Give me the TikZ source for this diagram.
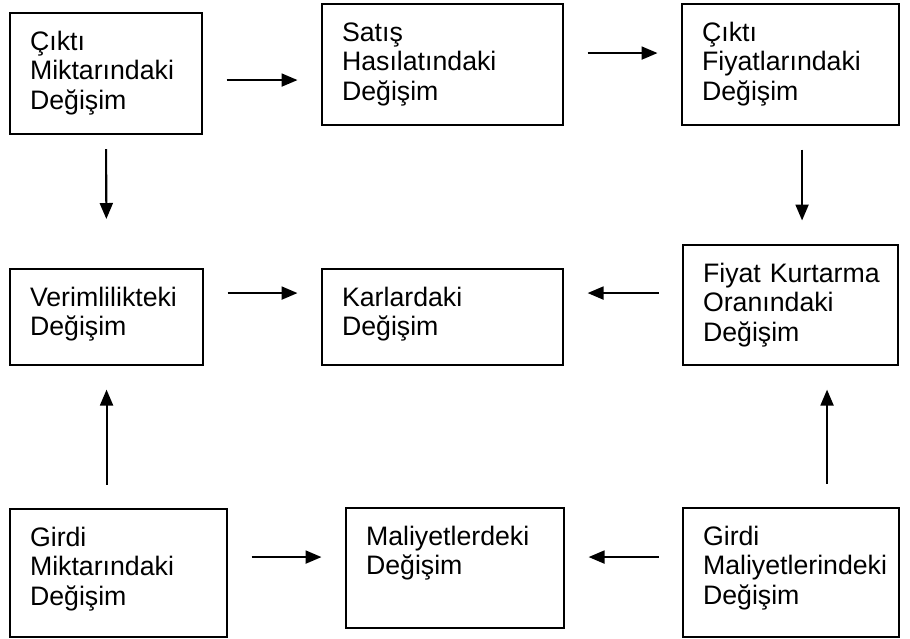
\documentclass[tikz,border=0pt]{standalone}
\usepackage{fontspec}
\setmainfont{Liberation Sans}
\usepackage{xcolor}
\usepackage{tikz}
\usetikzlibrary{arrows.meta}

\begin{document}
\begin{tikzpicture}[x=1pt,y=-1pt,
    kutu/.style={draw,line width=2.1pt,anchor=north west,align=left,
      inner xsep=20pt,inner ysep=0pt,text height=37pt,
      font={\fontsize{26.7}{29.6}\selectfont\hyphenpenalty=10000}},
    ok/.style={line width=2.1pt,-{Triangle[length=16pt,width=13pt]},
      shorten <=23.5pt,shorten >=23.5pt}]
    \useasboundingbox (0,0) rectangle (910,638);

    \node[kutu,text width=152pt,text depth=84pt] (b1) at (9,12) {Çıktı\\Miktarındaki\\Değişim};
    \node[kutu,text width=201pt,text depth=84pt] (b2) at (321,3) {Satış\\Hasılatındaki\\Değişim};
    \node[kutu,text width=177pt,text depth=84pt] (b3) at (681,3) {Çıktı\\Fiyatlarındaki\\Değişim};
    \node[kutu,text width=153pt,text depth=59pt] (b4) at (9,268) {Verimlilikteki\\Değişim};
    \node[kutu,text width=201pt,text depth=59pt] (b5) at (321,268) {Karlardaki\\Değişim};
    \node[kutu,text width=175pt,text depth=83pt] (b6) at (682,244) {Fiyat~Kurtarma\\Oranındaki\\Değişim};
    \node[kutu,text width=177pt,text depth=91pt] (b7) at (9,508) {Girdi\\Miktarındaki\\Değişim};
    \node[kutu,text width=178pt,text depth=83pt] (b8) at (345,507) {Maliyetlerdeki\\Değişim};
    \node[kutu,text width=176pt,text depth=92pt] (b9) at (682,507) {Girdi\\Maliyetlerindeki\\Değişim};

    \draw[ok] ([yshift=-6.5pt]b1.east) -- ([yshift=-6.5pt]b1.east -| b2.west);
    \draw[ok] ([yshift=11.5pt]b2.east) -- ([yshift=11.5pt]b2.east -| b3.west);
    \draw[ok,shorten <=14pt,shorten >=49pt] (b1.south) -- (b4.north);
    \draw[ok] ([xshift=11.5pt]b3.south) -- ([xshift=11.5pt]b3.south |- b6.north);
    \draw[ok] ([yshift=24pt]b4.east) -- ([yshift=24pt]b4.east -| b5.west);
    \draw[ok] ([yshift=12pt]b6.west) -- ([yshift=12pt]b6.west -| b5.east);
    \draw[ok] (b4.south |- b7.north) -- (b4.south);
    \draw[ok] ([xshift=36pt]b9.north) -- ([xshift=36pt]b9.north |- b6.south);
    \draw[ok] ([yshift=16pt]b7.east) -- ([yshift=16pt]b7.east -| b8.west);
    \draw[ok] ([yshift=15.5pt]b9.west) -- ([yshift=15.5pt]b9.west -| b8.east);
\end{tikzpicture}
\end{document}
